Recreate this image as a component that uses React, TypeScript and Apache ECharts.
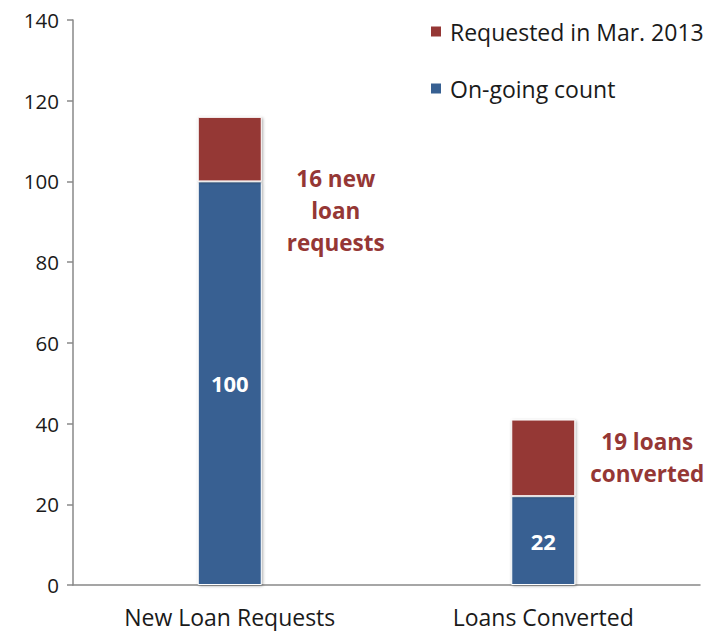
import React, { useEffect, useRef } from "react";
import * as echarts from "echarts";

const categories = ["New Loan Requests", "Loans Converted"];
const ongoing = [100, 22];
const requested = [16, 19];
const notes = ["16 new\nloan\nrequests", "19 loans\nconverted"];
const yTicks = { min: 0, max: 140, interval: 20 };

const FONT = "Open Sans";
const RED = "#953735";
const BLUE = "#376092";

export default function App() {
  const ref = useRef<HTMLDivElement>(null);
  useEffect(() => {
    if (!ref.current) return;
    const chart = echarts.init(ref.current, null, { renderer: "svg" });
    const noteOffsets = [
      [74, 61],
      [72, 0],
    ];
    const barStyle = {
      borderColor: "#ffffff",
      borderWidth: 1,
      shadowBlur: 3,
      shadowColor: "rgba(0,0,0,0.35)",
      shadowOffsetX: 1,
      shadowOffsetY: 1,
    };
    chart.setOption({
      animation: false,
      textStyle: { fontFamily: FONT },
      grid: { left: 73, right: 26, top: 20, bottom: 46 },
      legend: {
        orient: "vertical",
        left: 424,
        top: 15,
        itemWidth: 12,
        itemHeight: 12,
        itemGap: 34,
        icon: "rect",
        textStyle: { fontFamily: FONT, fontSize: 23, color: "#1a1a1a", padding: [0, 0, 0, 3] },
        data: ["Requested in Mar. 2013", "On-going count"],
      },
      xAxis: {
        type: "category",
        data: categories,
        axisLine: { lineStyle: { color: "#888888", width: 1.5 } },
        axisTick: { length: 7, lineStyle: { color: "#888888", width: 1.5 } },
        axisLabel: { fontFamily: FONT, fontSize: 23, color: "#1a1a1a", margin: 20 },
      },
      yAxis: {
        type: "value",
        min: yTicks.min,
        max: yTicks.max,
        interval: yTicks.interval,
        splitLine: { show: false },
        axisLine: { show: true, lineStyle: { color: "#888888", width: 1.5 } },
        axisTick: { show: true, length: 6, lineStyle: { color: "#888888", width: 1.5 } },
        axisLabel: { fontFamily: FONT, fontSize: 20.5, color: "#1a1a1a", margin: 14 },
      },
      series: [
        {
          name: "On-going count",
          type: "bar",
          stack: "total",
          barWidth: 64,
          itemStyle: { color: BLUE, ...barStyle },
          label: {
            show: true,
            position: "inside",
            color: "#ffffff",
            fontFamily: FONT,
            fontWeight: "bold",
            fontSize: 22,
          },
          data: ongoing,
        },
        {
          name: "Requested in Mar. 2013",
          type: "bar",
          stack: "total",
          barWidth: 64,
          itemStyle: { color: RED, ...barStyle },
          data: requested.map((v, i) => ({
            value: v,
            label: {
              show: true,
              position: "right",
              distance: 0,
              align: "center",
              verticalAlign: "middle",
              offset: noteOffsets[i],
              formatter: notes[i],
              color: RED,
              fontFamily: FONT,
              fontWeight: "bold",
              fontSize: 22.5,
              lineHeight: 32,
            },
          })),
        },
      ],
    });
    return () => chart.dispose();
  }, []);
  return <div ref={ref} style={{ width: 726, height: 631, position: "absolute", left: 0, top: 0 }} />;
}
